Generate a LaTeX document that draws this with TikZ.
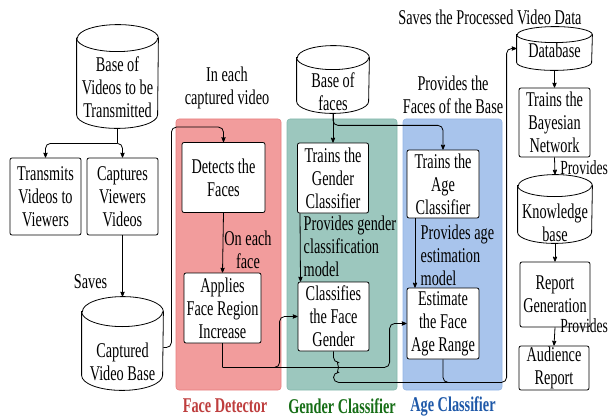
\documentclass[tikz,border=0pt]{standalone}
\usepackage{fontspec}
\setmainfont[FakeStretch=0.68]{Liberation Serif}
\usetikzlibrary{shapes,arrows}

\definecolor{detred}{RGB}{242,156,156}
\definecolor{detredline}{RGB}{232,125,125}
\definecolor{gengreen}{RGB}{156,199,190}
\definecolor{gengreenline}{RGB}{132,184,172}
\definecolor{ageblue}{RGB}{168,196,236}
\definecolor{ageblueline}{RGB}{146,180,230}
\definecolor{detredtext}{RGB}{190,62,62}
\definecolor{gengreentext}{RGB}{22,110,22}
\definecolor{agebluetext}{RGB}{30,88,168}

% name, position, width, height, cap radius
\newcommand{\dbase}[5]{%
  \node[minimum width=#3,minimum height=#4,inner sep=0pt] (#1) at (#2) {};
  \draw[-,fill=white] ([yshift=-#5]#1.north west) -- ([yshift=#5]#1.south west)
    arc[start angle=180,end angle=360,x radius=#3/2,y radius=#5]
    -- ([yshift=-#5]#1.north east)
    arc[start angle=0,end angle=180,x radius=#3/2,y radius=#5] -- cycle;
  \draw[-] ([yshift=-#5]#1.north west) arc[start angle=180,end angle=360,x radius=#3/2,y radius=#5];
}

\begin{document}
\begin{tikzpicture}[->,>=stealth',x=1pt,y=-1pt,line width=0.8pt]
\tikzstyle{every node}=[font=\fontsize{21}{23}\selectfont]
\tikzstyle{box}=[draw=black,fill=white,rectangle,rounded corners=2pt,align=center,inner sep=1pt]
\tikzstyle{region}=[rectangle,rounded corners=3pt,minimum height=271pt,line width=0.6pt]
\tikzstyle{caption}=[font=\fontsize{21}{23}\selectfont\bfseries]
\tikzstyle{side}=[font=\fontsize{20}{23}\selectfont,anchor=west,inner sep=0pt]
\useasboundingbox (0,0) rectangle (610,417);

% classifier regions
\node[region,draw=detredline,fill=detred,minimum width=105pt] (detector) at (228.5,254.5) {};
\node[region,draw=gengreenline,fill=gengreen,minimum width=110pt] (gender) at (342,254.5) {};
\node[region,draw=ageblueline,fill=ageblue,minimum width=99pt] (age) at (452.5,254.5) {};
\node[caption,text=detredtext] at (225,406) {Face Detector};
\node[caption,text=gengreentext] at (342,406) {Gender Classifier};
\node[caption,text=agebluetext] at (453,406) {Age Classifier};

% video side
\dbase{VB}{117.5,76.5}{81pt}{103pt}{13.5pt}
\node[align=center] at (117.5,87) {Base of\\Videos to be\\Transmitted};
\node[box,minimum width=71pt,minimum height=77pt] (TV) at (45.5,196.5) {Transmits\\Videos to\\Viewers};
\node[box,minimum width=71pt,minimum height=77pt] (CV) at (122.5,196.5) {Captures\\Viewers\\Videos};
\dbase{CB}{122.5,343.5}{81pt}{93pt}{15pt}
\node[align=center] at (122.5,362) {Captured\\Video Base};

% face detector
\node[box,minimum width=83pt,minimum height=70pt] (DF) at (223.5,177.5) {Detects the\\Faces};
\node[box,minimum width=77pt,minimum height=70pt] (AF) at (222.5,308) {Applies\\Face Region\\Increase};

% gender classifier
\dbase{FB}{333,79.5}{72pt}{67pt}{12pt}
\node[align=center] at (333,92) {Base of\\faces};
\node[box,minimum width=71pt,minimum height=70pt] (TG) at (333,178) {Trains the\\Gender\\Classifier};
\node[box,minimum width=71pt,minimum height=69pt] (CG) at (333.5,316.5) {Classifies\\the Face\\Gender};

% age classifier
\node[box,minimum width=72pt,minimum height=68pt] (TA) at (443,184) {Trains the\\Age\\Classifier};
\node[box,minimum width=72pt,minimum height=71pt] (EA) at (443,323.5) {Estimate\\the Face\\Age Range};

% report side
\dbase{DB}{554.5,48.5}{75pt}{43pt}{8pt}
\node at (554.5,50) {Database};
\node[box,minimum width=71pt,minimum height=69pt] (BN) at (554.5,122.5) {Trains the\\Bayesian\\Network};
\dbase{KB}{555,209}{74pt}{68pt}{11pt}
\node[align=center] at (555,223) {Knowledge\\base};
\node[box,minimum width=70pt,minimum height=65pt] (RG) at (555,294.5) {Report\\Generation};
\node[box,minimum width=70pt,minimum height=44pt] (AR) at (554,368) {Audience\\Report};

% free texts
\node[align=center] at (227,88) {In each\\captured video};
\node[align=center] at (453,95) {Provides the\\Faces of the Base};
\node at (490,17) {Saves the Processed Video Data};
\node at (90.5,282) {Saves};
\node[align=center] at (248,250) {On each\\face};
\node[align=left,anchor=west] at (300,246) {Provides gender\\classification\\model};
\node[align=left,anchor=west] at (417,255) {Provides age\\estimation\\model};
\node[side] at (560,168) {Provides};
\node[side] at (560,326) {Provides};

% connectors
\coordinate (vsplit) at ([yshift=-15pt]VB.south);
\draw[-,rounded corners=5pt] (VB.south) -- (vsplit);
\draw[rounded corners=5pt] (vsplit) -| (TV.north);
\draw[rounded corners=5pt] (vsplit) -| (CV.north);
\draw (CV.south) -- (CB.north);
\draw[rounded corners=5pt] ([yshift=-4pt]CB.east) -- ++(8,0) |- ([yshift=15pt]DF.north) -- (DF.north);
\draw (DF.south) -- (AF.north);
\coordinate (hub) at ([yshift=-24pt]AF.south);
\draw[-,rounded corners=5pt] (AF.south) -- (hub);
\draw[rounded corners=5pt] (hub) -| ([xshift=-18pt]CG.west) -- (CG.west);
\draw[rounded corners=5pt] (hub) -| ([xshift=-17pt]EA.west) -- (EA.west);
\draw (FB.south) -- (TG.north);
\draw[rounded corners=5pt] (FB.south) -- ++(0,12) -| (TA.north);
\draw ([xshift=-33pt]TG.south) -- ([xshift=-33pt]CG.north);
\draw ([xshift=-28pt]TA.south) -- ([xshift=-28pt]EA.north);
\draw[rounded corners=5pt] (CG.south) -- ++(0,11) arc[start angle=90,end angle=-90,radius=5pt]
  -- ++(0,10) -| ([xshift=-10pt]DB.west) -- (DB.west);
\draw[-,rounded corners=5pt] (EA.south) -- ++(0,23) -- ++(25,0);
\draw (DB.south) -- (BN.north);
\draw (BN.south) -- (KB.north);
\draw (KB.south) -- (RG.north);
\draw (RG.south) -- (AR.north);
\end{tikzpicture}
\end{document}
